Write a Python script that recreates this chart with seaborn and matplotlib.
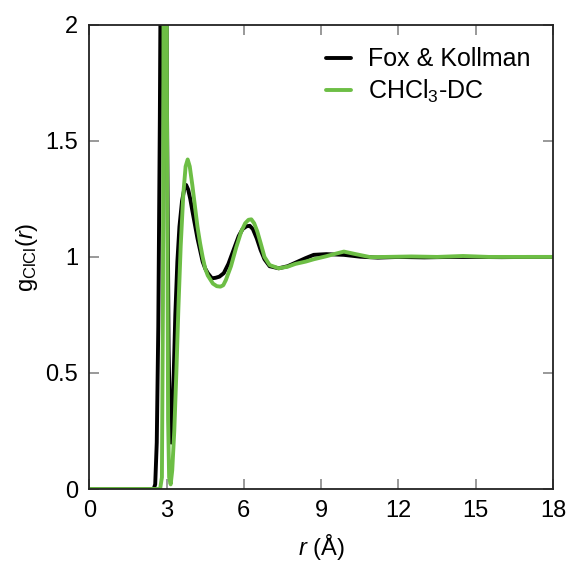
import numpy as np
import pandas as pd
import matplotlib
matplotlib.use("Agg")
import matplotlib.pyplot as plt
import seaborn as sns

# --- data ---
r_fox = [0.0, 2.50, 2.56, 2.62, 2.68, 2.74, 2.78, 2.84, 2.90, 2.96, 3.02, 3.08, 3.14,
         3.18, 3.22, 3.28, 3.34, 3.42, 3.50, 3.60, 3.70, 3.76, 3.84, 3.92, 4.00,
         4.10, 4.20, 4.30, 4.40, 4.50, 4.60, 4.76, 4.90, 5.05, 5.22, 5.40, 5.60,
         5.80, 5.95, 6.10, 6.23, 6.35, 6.50, 6.65, 6.80, 7.00, 7.35, 7.70, 8.00,
         8.40, 8.71, 9.20, 9.88, 10.52, 11.20, 12.0, 13.0, 14.0, 15.0, 16.0, 17.0, 18.0]
g_fox = [0.0, 0.0, 0.02, 0.2, 0.7, 1.6, 2.4, 4.0, 4.5, 3.2, 1.6, 0.6, 0.24,
         0.20, 0.28, 0.50, 0.75, 0.98, 1.13, 1.24, 1.30, 1.31, 1.29, 1.25, 1.20,
         1.14, 1.08, 1.03, 0.98, 0.95, 0.93, 0.908, 0.91, 0.915, 0.93, 0.97, 1.03,
         1.09, 1.12, 1.132, 1.134, 1.12, 1.08, 1.03, 0.99, 0.96, 0.951, 0.96, 0.975,
         0.995, 1.009, 1.012, 1.009, 1.001, 0.997, 1.0, 0.998, 1.0, 1.0, 0.999, 1.0, 1.0]

r_dc = [0.0, 2.75, 2.82, 2.86, 2.90, 2.94, 2.98, 3.02, 3.06, 3.10, 3.16, 3.22,
        3.30, 3.38, 3.46, 3.55, 3.65, 3.74, 3.82, 3.90, 4.00, 4.10, 4.20, 4.30,
        4.40, 4.50, 4.60, 4.80, 4.95, 5.09, 5.20, 5.30, 5.50, 5.70, 5.90, 6.05,
        6.18, 6.29, 6.40, 6.52, 6.65, 6.80, 7.00, 7.35, 7.70, 8.00, 8.40, 8.71,
        9.20, 9.60, 9.88, 10.30, 10.91, 11.5, 12.5, 13.5, 14.5, 15.5, 16.5, 18.0]
g_dc = [0.0, 0.0, 0.05, 0.8, 3.0, 4.5, 3.5, 1.5, 0.3, 0.05, 0.02, 0.08,
        0.25, 0.50, 0.78, 1.05, 1.27, 1.39, 1.42, 1.39, 1.31, 1.22, 1.13, 1.06,
        1.00, 0.95, 0.92, 0.885, 0.874, 0.872, 0.878, 0.90, 0.96, 1.04, 1.11, 1.145,
        1.16, 1.162, 1.145, 1.11, 1.06, 1.0, 0.965, 0.951, 0.958, 0.97, 0.98, 0.99,
        1.003, 1.015, 1.023, 1.013, 0.999, 1.0, 1.002, 1.0, 1.004, 1.0, 1.0, 1.0]

series_names = ["Fox & Kollman", "CHCl$_3$-DC"]
series_colors = ["#000000", "#6DBE45"]
x_ticks = [0, 3, 6, 9, 12, 15, 18]
y_ticks = [0, 0.5, 1, 1.5, 2]
y_tick_labels = ["0", "0.5", "1", "1.5", "2"]

df = pd.concat([
    pd.DataFrame({"r": r_fox, "g": g_fox, "model": series_names[0]}),
    pd.DataFrame({"r": r_dc, "g": g_dc, "model": series_names[1]}),
])

# --- style ---
sns.set_style("ticks")
plt.rcParams["font.family"] = ["Liberation Sans", "DejaVu Sans"]
plt.rcParams["mathtext.fontset"] = "custom"
plt.rcParams["mathtext.rm"] = "Liberation Sans"
plt.rcParams["mathtext.it"] = "Liberation Sans:italic"
plt.rcParams["text.color"] = "black"
plt.rcParams["axes.labelcolor"] = "black"
plt.rcParams["xtick.labelcolor"] = "black"
plt.rcParams["ytick.labelcolor"] = "black"

fig = plt.figure(figsize=(5.72, 5.65), dpi=100)
ax = fig.add_axes([0.156, 0.1345, 0.811, 0.8215])

sns.lineplot(data=df, x="r", y="g", hue="model", palette=series_colors,
             sort=False, estimator=None, linewidth=2.8, ax=ax)

ax.set_xlim(0, 18)
ax.set_ylim(0, 2)
ax.set_xticks(x_ticks)
ax.set_yticks(y_ticks)
ax.set_yticklabels(y_tick_labels)
ax.tick_params(direction="in", top=True, right=True, length=7, width=1.2,
               color="#888888", labelsize=17, pad=8)
for s in ax.spines.values():
    s.set_color("#222222")
    s.set_linewidth(1.3)

ax.set_xlabel(r"$\it{r}$ (Å)", fontsize=17, labelpad=7)
ax.set_ylabel(r"g$_{\rm ClCl}$($\it{r}$)", fontsize=17, labelpad=4)

leg = ax.legend(loc="upper right", frameon=False, fontsize=18, handlelength=1.0,
                handletextpad=0.7, borderaxespad=0.5, labelspacing=0.25)
for line in leg.get_lines():
    line.set_linewidth(2.8)

fig.savefig("out.png", dpi=100)
